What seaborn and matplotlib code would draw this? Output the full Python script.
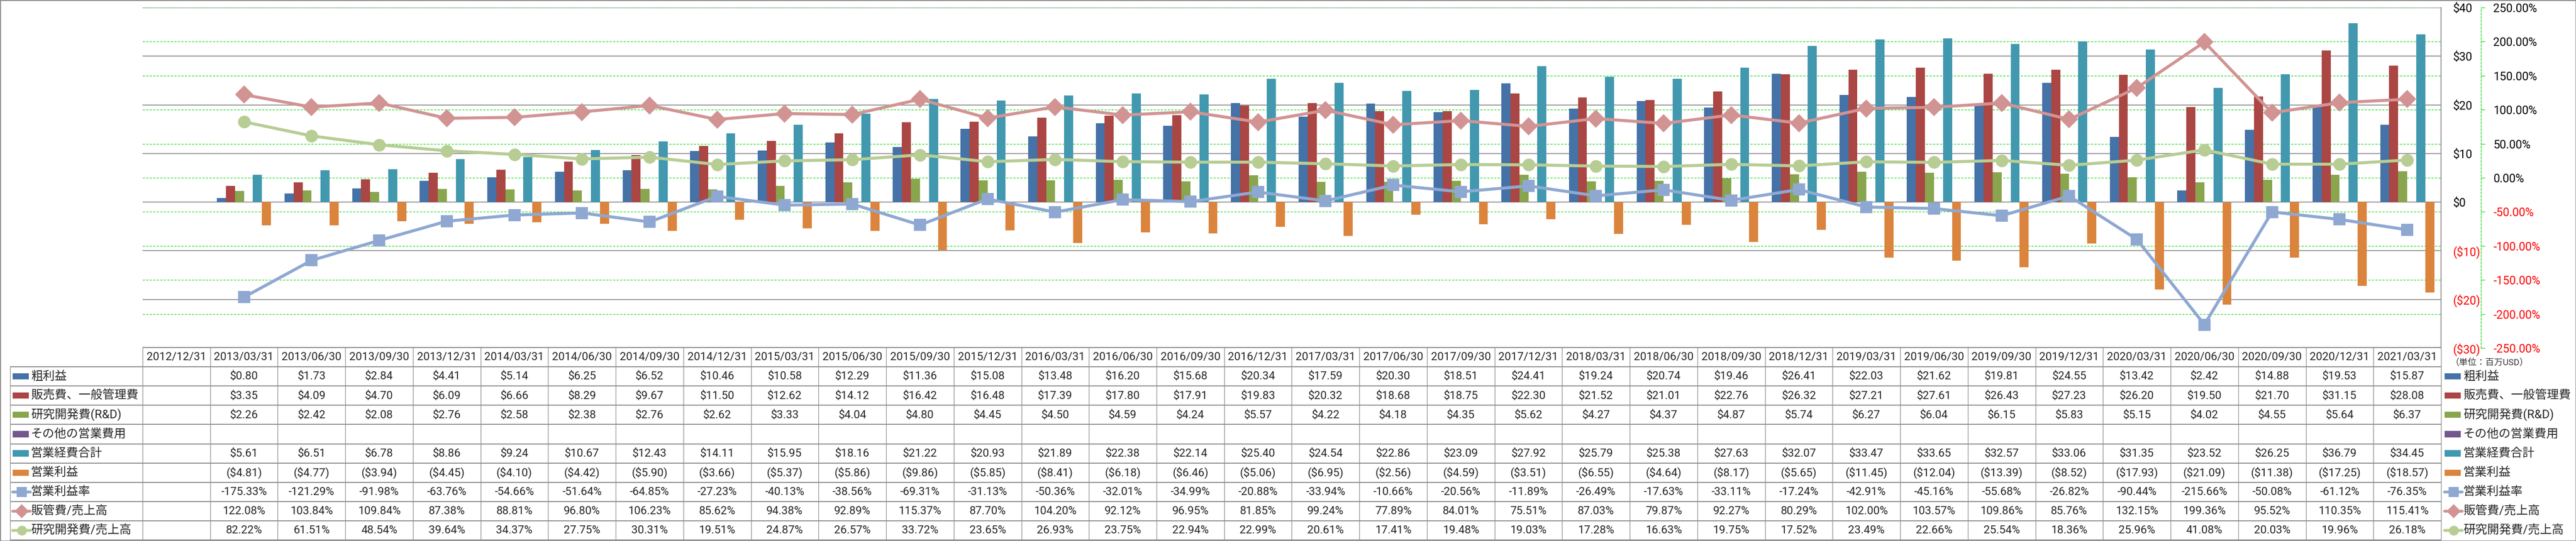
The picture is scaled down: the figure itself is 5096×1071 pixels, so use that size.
import numpy as np
import pandas as pd
import matplotlib
matplotlib.use("Agg")
import matplotlib.pyplot as plt
import matplotlib.transforms as mtransforms
from matplotlib.patches import Rectangle
from matplotlib.lines import Line2D
import seaborn as sns

N = np.nan
dates = ["2012/12/31", "2013/03/31", "2013/06/30", "2013/09/30", "2013/12/31",
         "2014/03/31", "2014/06/30", "2014/09/30", "2014/12/31", "2015/03/31",
         "2015/06/30", "2015/09/30", "2015/12/31", "2016/03/31", "2016/06/30",
         "2016/09/30", "2016/12/31", "2017/03/31", "2017/06/30", "2017/09/30",
         "2017/12/31", "2018/03/31", "2018/06/30", "2018/09/30", "2018/12/31",
         "2019/03/31", "2019/06/30", "2019/09/30", "2019/12/31", "2020/03/31",
         "2020/06/30", "2020/09/30", "2020/12/31", "2021/03/31"]

gross = [N, 0.80, 1.73, 2.84, 4.41, 5.14, 6.25, 6.52, 10.46, 10.58, 12.29, 11.36, 15.08,
         13.48, 16.20, 15.68, 20.34, 17.59, 20.30, 18.51, 24.41, 19.24, 20.74, 19.46,
         26.41, 22.03, 21.62, 19.81, 24.55, 13.42, 2.42, 14.88, 19.53, 15.87]
sga = [N, 3.35, 4.09, 4.70, 6.09, 6.66, 8.29, 9.67, 11.50, 12.62, 14.12, 16.42, 16.48,
       17.39, 17.80, 17.91, 19.83, 20.32, 18.68, 18.75, 22.30, 21.52, 21.01, 22.76,
       26.32, 27.21, 27.61, 26.43, 27.23, 26.20, 19.50, 21.70, 31.15, 28.08]
rnd = [N, 2.26, 2.42, 2.08, 2.76, 2.58, 2.38, 2.76, 2.62, 3.33, 4.04, 4.80, 4.45,
       4.50, 4.59, 4.24, 5.57, 4.22, 4.18, 4.35, 5.62, 4.27, 4.37, 4.87,
       5.74, 6.27, 6.04, 6.15, 5.83, 5.15, 4.02, 4.55, 5.64, 6.37]
other = [N] * 34
opex = [N, 5.61, 6.51, 6.78, 8.86, 9.24, 10.67, 12.43, 14.11, 15.95, 18.16, 21.22, 20.93,
        21.89, 22.38, 22.14, 25.40, 24.54, 22.86, 23.09, 27.92, 25.79, 25.38, 27.63,
        32.07, 33.47, 33.65, 32.57, 33.06, 31.35, 23.52, 26.25, 36.79, 34.45]
opinc = [N, -4.81, -4.77, -3.94, -4.45, -4.10, -4.42, -5.90, -3.66, -5.37, -5.86, -9.86, -5.85,
         -8.41, -6.18, -6.46, -5.06, -6.95, -2.56, -4.59, -3.51, -6.55, -4.64, -8.17,
         -5.65, -11.45, -12.04, -13.39, -8.52, -17.93, -21.09, -11.38, -17.25, -18.57]
opm = [N, -175.33, -121.29, -91.98, -63.76, -54.66, -51.64, -64.85, -27.23, -40.13, -38.56,
       -69.31, -31.13, -50.36, -32.01, -34.99, -20.88, -33.94, -10.66, -20.56, -11.89,
       -26.49, -17.63, -33.11, -17.24, -42.91, -45.16, -55.68, -26.82, -90.44, -215.66,
       -50.08, -61.12, -76.35]
sga_ratio = [N, 122.08, 103.84, 109.84, 87.38, 88.81, 96.80, 106.23, 85.62, 94.38, 92.89,
             115.37, 87.70, 104.20, 92.12, 96.95, 81.85, 99.24, 77.89, 84.01, 75.51,
             87.03, 79.87, 92.27, 80.29, 102.00, 103.57, 109.86, 85.76, 132.15, 199.36,
             95.52, 110.35, 115.41]
rnd_ratio = [N, 82.22, 61.51, 48.54, 39.64, 34.37, 27.75, 30.31, 19.51, 24.87, 26.57,
             33.72, 23.65, 26.93, 23.75, 22.94, 22.99, 20.61, 17.41, 19.48, 19.03,
             17.28, 16.63, 19.75, 17.52, 23.49, 22.66, 25.54, 18.36, 25.96, 41.08,
             20.03, 19.96, 26.18]

bar_names = ["粗利益", "販売費、一般管理費", "研究開発費(R&D)", "その他の営業費用", "営業経費合計", "営業利益"]
bar_values = [gross, sga, rnd, other, opex, opinc]
bar_colors = ["#4572A7", "#AA4643", "#89A54E", "#71588F", "#4198AF", "#DB843D"]
line_names = ["営業利益率", "販管費/売上高", "研究開発費/売上高"]
line_values = [opm, sga_ratio, rnd_ratio]
line_colors = ["#8EA8D2", "#D29393", "#B7CD94"]
line_markers = ["s", "D", "o"]
line_msize = [17, 18, 18]

usd_ticks = [-30, -20, -10, 0, 10, 20, 30, 40]
pct_ticks = [-250, -200, -150, -100, -50, 0, 50, 100, 150, 200, 250]

sns.set_theme(style="white")
plt.rcParams["font.family"] = ["Roboto", "Noto Sans CJK JP", "DejaVu Sans"]

W, H = 5096, 1071
fig = plt.figure(figsize=(W / 100, H / 100), dpi=100)
fig.patch.set_facecolor("white")

L, R, T, B = 282, 4829, 15, 689
rect = [L / W, (H - B) / H, (R - L) / W, (B - T) / H]
GREEN = "#22DD22"
GRAY = "#868686"

# percent grid axis (bottom layer)
ax_g = fig.add_axes(rect, zorder=0)
ax_g.set_xlim(-0.5, 33.5)
ax_g.set_ylim(-250, 250)
ax_g.set_xticks([])
ax_g.set_yticks(pct_ticks, [f"{t:.2f}%" for t in pct_ticks])
ax_g.yaxis.tick_right()
ax_g.grid(axis="y", color=GREEN, lw=1.0, linestyle=(0, (3, 2)))
ax_g.grid(axis="x", visible=False)
for s in ["left", "top", "bottom"]:
    ax_g.spines[s].set_visible(False)
ax_g.spines["right"].set_position(("outward", 79 * 0.72))
ax_g.spines["right"].set_color(GREEN)
ax_g.spines["right"].set_linestyle((0, (3, 2)))
ax_g.spines["right"].set_linewidth(1.0)
ax_g.tick_params(axis="y", length=6, width=1.0, color=GREEN, pad=11.5, labelsize=16.5, right=True)
for tk, t in zip(ax_g.yaxis.get_major_ticks(), pct_ticks):
    tk.label2.set_color("#FF0000" if t < 0 else "black")

# bar axis
ax_b = fig.add_axes(rect, zorder=1)
ax_b.patch.set_visible(False)
rows = []
for name, vals in zip(bar_names, bar_values):
    for d, v in zip(dates, vals):
        if not np.isnan(v):
            rows.append((d, name, v))
bar_df = pd.DataFrame(rows, columns=["date", "series", "value"])
sns.barplot(data=bar_df, x="date", y="value", hue="series", order=dates, hue_order=bar_names,
            palette=dict(zip(bar_names, bar_colors)), width=0.8, saturation=1, errorbar=None,
            legend=False, ax=ax_b, linewidth=0)
ax_b.set_xlim(-0.5, 33.5)
ax_b.set_ylim(-30, 40)
ax_b.set_xlabel("")
ax_b.set_ylabel("")
ax_b.set_xticks([])
ax_b.set_yticks(usd_ticks, [("$%d" % t) if t >= 0 else ("($%d)" % -t) for t in usd_ticks])
ax_b.yaxis.tick_right()
ax_b.tick_params(axis="y", length=0, pad=17, labelsize=16.5, right=True)
for tk, t in zip(ax_b.yaxis.get_major_ticks(), usd_ticks):
    tk.label2.set_color("#FF0000" if t < 0 else "black")
ax_b.set_axisbelow(True)
ax_b.grid(axis="y", color=GRAY, lw=1.2, linestyle="-")
ax_b.grid(axis="x", visible=False)
for s in ["left", "top", "bottom"]:
    ax_b.spines[s].set_visible(False)
ax_b.spines["right"].set_color(GRAY)
ax_b.spines["right"].set_linewidth(1.2)

# line axis (top layer)
ax_l = fig.add_axes(rect, zorder=2)
ax_l.patch.set_visible(False)
idx = np.arange(len(dates))
for name, vals, c, m, ms in zip(line_names, line_values, line_colors, line_markers, line_msize):
    sns.lineplot(x=idx, y=vals, ax=ax_l, color=c, linewidth=4.3, marker=m, markersize=ms,
                 markeredgewidth=0, legend=False)
ax_l.set_xlim(-0.5, 33.5)
ax_l.set_ylim(-250, 250)
ax_l.axis("off")

# data table
ax_t = fig.add_axes([L / W, (H - 1069) / H, (R - L) / W, (1069 - 688) / H], zorder=3)
ax_t.set_xlim(-0.5, 33.5)
ax_t.set_ylim(10, 0)
ax_t.axis("off")
blend = mtransforms.blended_transform_factory(ax_t.transAxes, ax_t.transData)
def fx(px):
    return (px - L) / (R - L)

TL = "#8C8C8C"
ax_t.hlines(0, -0.5, 33.5, color=TL, lw=1.4, clip_on=False)
ax_t.hlines(np.arange(1, 11), fx(20), 1.0, color=TL, lw=1.4, transform=blend, clip_on=False)
ax_t.vlines(np.arange(35) - 0.5, 0, 10, color=TL, lw=0.9, clip_on=False)
ax_t.vlines(fx(20), 1, 10, color=TL, lw=0.9, transform=blend, clip_on=False)

FS = 16
for i, d in enumerate(dates):
    ax_t.text(i, 0.52, d, ha="center", va="center", fontsize=FS, clip_on=False)

def money(v):
    if np.isnan(v):
        return ""
    return f"${v:.2f}" if v >= 0 else f"(${-v:.2f})"

def pct(v):
    return "" if np.isnan(v) else f"{v:.2f}%"

table_rows = [(n, v, money) for n, v in zip(bar_names, bar_values)] + \
             [(n, v, pct) for n, v in zip(line_names, line_values)]
for r, (name, vals, f) in enumerate(table_rows, start=1):
    for i, v in enumerate(vals):
        s = f(v)
        if s:
            ax_t.text(i, r + 0.52, s, ha="center", va="center", fontsize=FS, clip_on=False)

def draw_key(x0px, r, kind, k):
    yc = r + 0.5
    if kind == "bar":
        ax_t.add_patch(Rectangle((fx(x0px), yc - 0.16), fx(x0px + 32) - fx(x0px), 0.32,
                                 facecolor=bar_colors[k], edgecolor="none", transform=blend,
                                 clip_on=False))
    else:
        ax_t.add_line(Line2D([fx(x0px), fx(x0px + 35)], [yc, yc], color=line_colors[k], lw=4.0,
                             transform=blend, clip_on=False))
        ax_t.add_line(Line2D([fx(x0px + 17.5)], [yc], color=line_colors[k], marker=line_markers[k],
                             markersize=14, markeredgewidth=0, transform=blend, clip_on=False))

keys = [("bar", k) for k in range(6)] + [("line", k) for k in range(3)]
labels = bar_names + line_names
for r, ((kind, k), lab) in enumerate(zip(keys, labels), start=1):
    draw_key(25, r, kind, k)
    ax_t.text(fx(61), r + 0.5, lab, ha="left", va="center", fontsize=17, transform=blend, clip_on=False)
    draw_key(4836, r, kind, k)
    ax_t.text(fx(4873), r + 0.5, lab, ha="left", va="center", fontsize=17, transform=blend, clip_on=False)

ax_t.text(fx(4848), 0.76, "（単位：百万USD）", ha="left", va="center", fontsize=12.5,
          color="#333333", transform=blend, clip_on=False)

fig.patches.append(Rectangle((0, 0), 1, 1, transform=fig.transFigure, fill=False,
                             edgecolor="#8C8C8C", lw=2.0))

fig.savefig("out.png", dpi=100)
